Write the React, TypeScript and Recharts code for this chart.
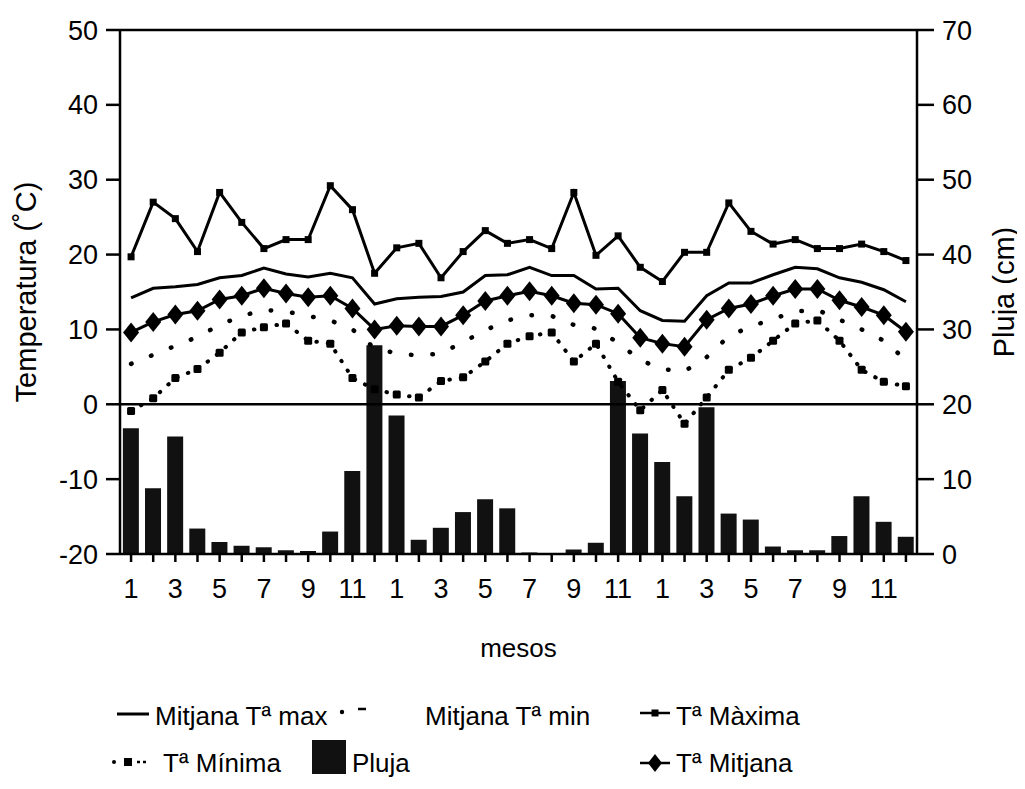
import { ComposedChart, Line, Bar, XAxis, YAxis, ReferenceLine, Legend } from 'recharts';

// 3 years of monthly data
const months = [1, 2, 3, 4, 5, 6, 7, 8, 9, 10, 11, 12, 1, 2, 3, 4, 5, 6, 7, 8, 9, 10, 11, 12, 1, 2, 3, 4, 5, 6, 7, 8, 9, 10, 11, 12];

const pluja = [16.8, 8.8, 15.7, 3.4, 1.6, 1.1, 0.9, 0.5, 0.4, 3.0, 11.1, 27.9, 18.5, 1.9, 3.5, 5.6, 7.3, 6.1, 0.2, 0.1, 0.6, 1.5, 23.1, 16.1, 12.3, 7.7, 19.6, 5.4, 4.6, 1.0, 0.5, 0.5, 2.4, 7.7, 4.3, 2.3];

const taMaxima = [19.7, 27.0, 24.8, 20.4, 28.3, 24.3, 20.8, 22.0, 22.0, 29.2, 26.0, 17.5, 20.9, 21.5, 16.9, 20.4, 23.2, 21.5, 22.0, 20.8, 28.3, 19.9, 22.5, 18.3, 16.4, 20.3, 20.3, 26.9, 23.1, 21.4, 22.0, 20.8, 20.8, 21.4, 20.4, 19.2];

const mitjanaMax = [14.2, 15.5, 15.7, 16.0, 16.9, 17.2, 18.2, 17.4, 17.0, 17.5, 16.9, 13.4, 14.1, 14.3, 14.4, 15.0, 17.2, 17.3, 18.3, 17.2, 17.2, 15.4, 15.5, 12.5, 11.2, 11.1, 14.5, 16.2, 16.2, 17.3, 18.3, 18.1, 16.9, 16.3, 15.3, 13.7];

const taMitjana = [9.6, 11.0, 12.0, 12.5, 14.0, 14.5, 15.5, 14.8, 14.3, 14.5, 12.8, 10.0, 10.5, 10.4, 10.4, 11.9, 13.8, 14.5, 15.1, 14.5, 13.5, 13.3, 12.1, 8.9, 8.1, 7.7, 11.3, 12.8, 13.4, 14.5, 15.4, 15.4, 13.9, 13.0, 11.9, 9.7];

const mitjanaMin = [5.4, 6.6, 7.8, 9.0, 10.6, 11.8, 12.6, 12.4, 11.8, 11.2, 10.0, 7.5, 6.8, 6.5, 6.8, 8.3, 9.9, 11.2, 11.9, 11.8, 10.6, 10.1, 8.2, 5.9, 4.7, 4.4, 6.3, 9.1, 10.4, 11.4, 12.4, 12.6, 11.3, 10.0, 8.5, 5.9];

const taMinima = [-0.9, 0.8, 3.5, 4.7, 6.9, 9.6, 10.3, 10.8, 8.5, 8.1, 3.5, 2.0, 1.3, 0.9, 3.1, 3.6, 5.7, 8.1, 9.1, 9.6, 5.7, 8.1, 3.0, -0.8, 1.9, -2.6, 0.9, 4.6, 6.2, 8.5, 10.8, 11.2, 8.5, 4.6, 3.0, 2.4];

const tempTicks = [-20, -10, 0, 10, 20, 30, 40, 50];
const plujaTicks = [0, 10, 20, 30, 40, 50, 60, 70];

const FONT = '"Liberation Sans", Arial, Helvetica, sans-serif';
const W = 1017;
const H = 773;

const data = months.map((m, i) => ({
  mes: String(m),
  pluja: pluja[i],
  taMaxima: taMaxima[i],
  mitjanaMax: mitjanaMax[i],
  taMitjana: taMitjana[i],
  mitjanaMin: mitjanaMin[i],
  taMinima: taMinima[i],
}));

const SmallSquare = (props: any) => {
  const { cx, cy, index } = props;
  if (cx == null || cy == null) return null;
  return <rect key={`sq-${index}`} x={cx - 3.5} y={cy - 3.5} width={7} height={7} fill="#000" />;
};

const MinSquare = (props: any) => {
  const { cx, cy, index } = props;
  if (cx == null || cy == null) return null;
  return <rect key={`ms-${index}`} x={cx - 4} y={cy - 4} width={8} height={8} rx={1.5} fill="#000" />;
};

const Diamond = (props: any) => {
  const { cx, cy, index } = props;
  if (cx == null || cy == null) return null;
  return (
    <polygon
      key={`dm-${index}`}
      points={`${cx},${cy - 10} ${cx + 8},${cy} ${cx},${cy + 10} ${cx - 8},${cy}`}
      fill="#000"
    />
  );
};

const legendText = { position: 'absolute' as const, fontSize: 26, fontFamily: FONT, color: '#000', whiteSpace: 'nowrap' as const, lineHeight: '30px' };

// custom legend laid out like the original (3 columns x 2 rows)
const renderLegend = () => (
  <div style={{ position: 'relative', width: W, height: 90 }}>
    {/* row 1 */}
    <svg style={{ position: 'absolute', left: 108, top: 10 }} width={36} height={20}>
      <line x1={1} y1={8} x2={33} y2={8} stroke="#000" strokeWidth={3} />
    </svg>
    <span style={{ ...legendText, left: 147, top: 5 }}>Mitjana Tª max</span>
    <svg style={{ position: 'absolute', left: 326, top: 10 }} width={90} height={20}>
      <circle cx={8} cy={6} r={2.2} fill="#000" />
      <line x1={24} y1={3} x2={32} y2={3} stroke="#000" strokeWidth={2.5} />
    </svg>
    <span style={{ ...legendText, left: 417, top: 5 }}>Mitjana Tª min</span>
    <svg style={{ position: 'absolute', left: 630, top: 10 }} width={36} height={20}>
      <line x1={2} y1={7} x2={32} y2={7} stroke="#000" strokeWidth={2.5} />
      <rect x={13.5} y={3.5} width={7} height={7} fill="#000" />
    </svg>
    <span style={{ ...legendText, left: 668, top: 5 }}>Tª Màxima</span>

    {/* row 2 */}
    <svg style={{ position: 'absolute', left: 102, top: 56 }} width={48} height={20}>
      <circle cx={4} cy={10} r={2} fill="#000" />
      <rect x={14} y={6} width={8} height={8} fill="#000" />
      <line x1={27} y1={10} x2={38} y2={10} stroke="#000" strokeWidth={2.5} strokeDasharray="3 3" />
    </svg>
    <span style={{ ...legendText, left: 155, top: 52 }}>Tª Mínima</span>
    <svg style={{ position: 'absolute', left: 304, top: 44 }} width={36} height={36}>
      <rect x={0} y={0} width={34} height={34} fill="#111" />
    </svg>
    <span style={{ ...legendText, left: 344, top: 52 }}>Pluja</span>
    <svg style={{ position: 'absolute', left: 630, top: 55 }} width={36} height={24}>
      <line x1={2} y1={12} x2={32} y2={12} stroke="#000" strokeWidth={2.5} />
      <polygon points="17,3 24,12 17,21 10,12" fill="#000" />
    </svg>
    <span style={{ ...legendText, left: 668, top: 52 }}>Tª Mitjana</span>
  </div>
);

export default function App() {
  const tickStyle = { fill: '#000', fontSize: 27, fontFamily: FONT };
  return (
    <div style={{ width: W, height: H, fontFamily: FONT, background: '#fff' }}>
      <ComposedChart
        width={W}
        height={H}
        data={data}
        margin={{ top: 22, right: 0, left: 12, bottom: 187 }}
        barCategoryGap="13%"
      >
        <XAxis
          dataKey="mes"
          interval={0}
          height={40}
          tickSize={8}
          tickMargin={17}
          stroke="#000"
          strokeWidth={2.5}
          tick={tickStyle}
          tickFormatter={(v: string, i: number) => (i % 2 === 0 ? v : '')}
          label={{ value: 'mesos', position: 'bottom', offset: 45, fill: '#000', fontSize: 26, fontFamily: FONT }}
        />
        <YAxis
          yAxisId="left"
          orientation="left"
          width={100}
          domain={[-20, 50]}
          ticks={tempTicks}
          interval={0}
          tickSize={14}
          tickMargin={8}
          stroke="#000"
          strokeWidth={2.5}
          tick={tickStyle}
          label={{
            value: 'Temperatura (˚C)',
            angle: -90,
            position: 'insideLeft',
            offset: 6,
            fill: '#000',
            fontSize: 29,
            fontFamily: FONT,
            style: { textAnchor: 'middle' },
          }}
        />
        <YAxis
          yAxisId="right"
          orientation="right"
          width={108}
          domain={[0, 70]}
          ticks={plujaTicks}
          interval={0}
          tickSize={17}
          tickMargin={8}
          stroke="#000"
          strokeWidth={2.5}
          tick={tickStyle}
          label={{
            value: 'Pluja (cm)',
            angle: -90,
            position: 'insideRight',
            offset: 21,
            fill: '#000',
            fontSize: 29,
            fontFamily: FONT,
            style: { textAnchor: 'middle' },
          }}
        />
        <ReferenceLine yAxisId="left" y={50} stroke="#000" strokeWidth={2.5} />
        <ReferenceLine yAxisId="left" y={0} stroke="#000" strokeWidth={2.5} />

        <Line
          yAxisId="left"
          type="linear"
          dataKey="mitjanaMax"
          stroke="#000"
          strokeWidth={3}
          dot={false}
          isAnimationActive={false}
        />
        <Line
          yAxisId="left"
          type="linear"
          dataKey="mitjanaMin"
          stroke="#000"
          strokeWidth={4.5}
          strokeDasharray="0.5 21"
          strokeLinecap="round"
          dot={false}
          isAnimationActive={false}
        />
        <Line
          yAxisId="left"
          type="linear"
          dataKey="taMaxima"
          stroke="#000"
          strokeWidth={3}
          dot={SmallSquare}
          isAnimationActive={false}
        />
        <Line
          yAxisId="left"
          type="linear"
          dataKey="taMinima"
          stroke="#000"
          strokeWidth={4}
          strokeDasharray="0.5 11"
          strokeLinecap="round"
          dot={MinSquare}
          isAnimationActive={false}
        />
        <Line
          yAxisId="left"
          type="linear"
          dataKey="taMitjana"
          stroke="#000"
          strokeWidth={3}
          dot={Diamond}
          isAnimationActive={false}
        />
        <Bar yAxisId="right" dataKey="pluja" fill="#111" isAnimationActive={false} />

        <Legend
          verticalAlign="middle"
          align="center"
          layout="horizontal"
          content={renderLegend}
          wrapperStyle={{ top: 688, left: 0, width: W }}
        />
      </ComposedChart>
    </div>
  );
}
